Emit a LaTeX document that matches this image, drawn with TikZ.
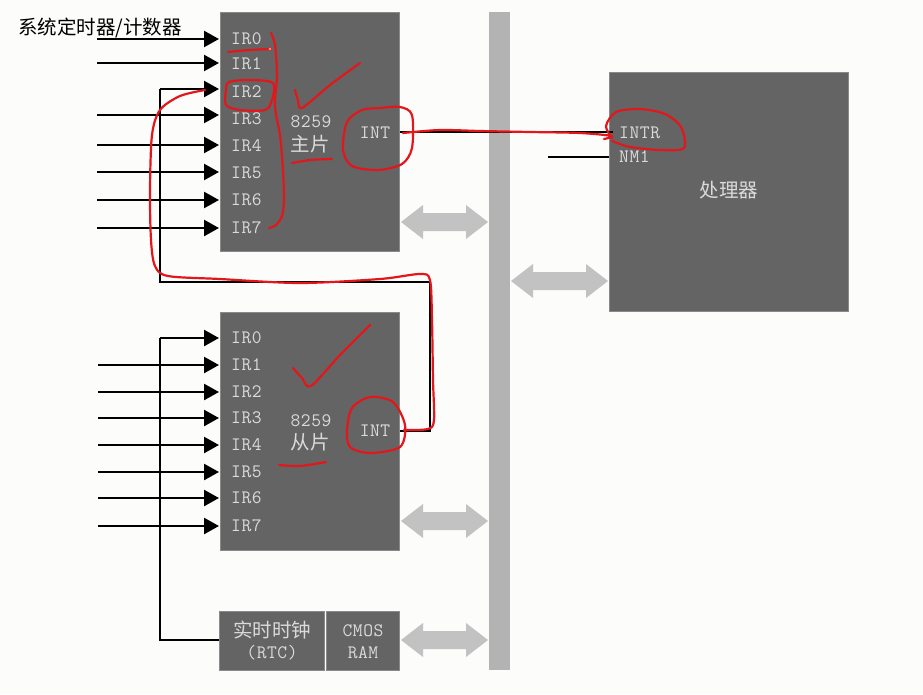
\documentclass[tikz,border=0pt]{standalone}
\usepackage{fontspec}
\setmainfont{Liberation Sans}
\newfontfamily\cjk{Noto Sans CJK SC}
\newfontfamily\monof{Latin Modern Mono}[LetterSpace=3]
\usetikzlibrary{arrows.meta}
\definecolor{chipgray}{HTML}{646464}
\definecolor{chipedge}{HTML}{8A8A8A}
\definecolor{labgray}{HTML}{DADADA}
\definecolor{busgray}{HTML}{B3B3B3}
\definecolor{arrgray}{HTML}{C2C2C2}
\definecolor{pen}{HTML}{E3171B}
\definecolor{bg}{HTML}{FCFCFA}
\newcommand{\dblarr}[3]{%
  \fill[arrgray] (#1,#3) -- (#1+22,#3-17) -- (#1+22,#3-9) -- (#2-22,#3-9) -- (#2-22,#3-17)
    -- (#2,#3) -- (#2-22,#3+17) -- (#2-22,#3+9) -- (#1+22,#3+9) -- (#1+22,#3+17) -- cycle;}
\tikzset{
  chip/.style={fill=chipgray, draw=chipedge, line width=0.8pt, inner sep=0pt, anchor=north west},
  irlab/.style={anchor=west, text=labgray, inner sep=0pt, font=\monof\fontsize{19}{19}\selectfont},
  cjklab/.style={text=labgray, inner sep=0pt, font=\cjk\fontsize{19.5}{21}\selectfont},
  wire/.style={draw=black, line width=2.4pt},
  inarrow/.style={wire, -{Triangle[length=15pt,width=16pt]}, shorten >=1pt},
  redpen/.style={draw=pen, line width=2.2pt, line cap=round, line join=round}
}
\begin{document}
\begin{tikzpicture}[x=1pt,y=-1pt]
\useasboundingbox[fill=bg] (0,0) rectangle (923,694);

% bus
\fill[busgray] (489,12) rectangle (510,670);

% chips
\node[chip, minimum width=179pt, minimum height=239pt] (master) at (220,12) {};
\node[chip, minimum width=179pt, minimum height=238pt] (slave) at (220,312) {};
\node[chip, minimum width=239pt, minimum height=239pt] (cpu) at (609,72) {};
\node[chip, minimum width=105pt, minimum height=59pt] (rtc) at (219,611) {};
\node[chip, minimum width=73pt, minimum height=59pt] (cmos) at (326,611) {};

% labels master
\foreach \i/\y in {0/39,1/64,2/92,3/119,4/146,5/173,6/200,7/228}
  \node[irlab] (mir\i) at (231,\y) {IR\i};
\node[irlab, anchor=center] (m8259) at (311,122) {8259};
\node[cjklab] (mzhu) at (310,144) {主片};
\node[irlab, anchor=center] (mint) at (375,133) {INT};

% labels slave
\foreach \i/\y in {0/338,1/365,2/392,3/418,4/445,5/472,6/498,7/526}
  \node[irlab] (sir\i) at (231,\y) {IR\i};
\node[irlab, anchor=center] (s8259) at (311,421) {8259};
\node[cjklab] (scong) at (310,442) {从片};
\node[irlab, anchor=center] (sint) at (375,431) {INT};

% cpu labels
\node[irlab] (intr) at (619,133) {INTR};
\node[irlab] (nmi) at (619,157) {NM1};
\node[cjklab] (cpul) at (729,190) {处理器};

% rtc / cmos labels
\node[cjklab] (rtc1) at (272,630) {实时时钟};
\node[irlab, anchor=center] (rtc2) at (272,653) {(RTC)};
\node[irlab, anchor=center] (cmos1) at (363,631) {CMOS};
\node[irlab, anchor=center] (cmos2) at (363,653) {RAM};

% title
\node[anchor=west, inner sep=0pt, font=\cjk\fontsize{19.5}{21}\selectfont, text=black] (title) at (18,28) {系统定时器/计数器};

% input arrows master
\foreach \y/\n in {39/0,63/1,115/3,145/4,172/5,200/6,228/7} {
  \coordinate (ms\n) at (97,\y);
  \draw[inarrow] (ms\n) -- (ms\n -| master.west);
}
% cascade from slave INT to IR2
\coordinate (c1) at (430,431);
\coordinate (c2) at (430,282);
\coordinate (c3) at (160,282);
\coordinate (c4) at (160,89);
\draw[wire, line join=miter] (slave.east |- c1) -- (c1) -- (c2) -- (c3) -- (c4);
\draw[inarrow] (c4) -- (c4 -| master.west);

% slave inputs
\foreach \y/\n in {365/1,392/2,418/3,445/4,472/5,498/6,526/7} {
  \coordinate (ss\n) at (98,\y);
  \draw[inarrow] (ss\n) -- (ss\n -| slave.west);
}
\coordinate (r1) at (160,640);
\coordinate (r2) at (160,338);
\draw[wire, line join=miter] (r1 -| rtc.west) -- (r1) -- (r2);
\draw[inarrow] (r2) -- (r2 -| slave.west);

% INT -> INTR and NMI
\coordinate (intend) at (613,132);
\draw[wire] (master.east |- intend) -- (intend);
\coordinate (nmist) at (548,157);
\draw[wire] (nmist) -- (nmist -| cpu.west);

% bus double arrows
\dblarr{401}{488}{222}
\dblarr{511}{608}{281}
\dblarr{401}{488}{521}
\dblarr{401}{488}{640}

% red annotations
\draw[redpen] plot[smooth] coordinates {(228,52) (250,50) (270,49)};
\draw[pen, fill=white, line width=0.8pt] (270,49) circle (1.6);
\draw[redpen] plot[smooth] coordinates {(271,33) (275,45) (277,75) (275,100) (276,115) (280,135) (283,170) (284,200) (282,216) (276,225) (269,228)};
\draw[redpen] plot[smooth cycle] coordinates {(229,82) (250,80) (273,83) (272,100) (265,110) (240,110) (226,105) (226,90)};
\draw[redpen] plot[smooth] coordinates {(295,90) (298,100) (302,108) (330,85) (360,63)};
\draw[redpen] plot[smooth] coordinates {(292,163) (310,160) (332,159)};
\draw[redpen] plot[smooth cycle] coordinates {(380,108) (400,107) (412,115) (412,148) (402,164) (378,170) (352,166) (343,150) (347,122) (362,110)};
\draw[redpen] plot[smooth] coordinates {(403,133) (440,130) (480,131) (530,132) (580,133) (612,136) (604,139)};
\draw[redpen] plot[smooth] coordinates {(612,138) (606,126) (616,112) (640,109) (665,114) (681,127) (684,148) (660,150) (630,147) (612,141)};
\draw[redpen] plot[smooth] coordinates {(205,90) (180,96) (160,110) (152,135) (150,190) (151,240) (155,266) (168,276) (220,279) (300,283) (380,279) (420,274) (430,280) (432,320) (433,380) (434,420) (428,429) (404,430)};
\draw[redpen] plot[smooth] coordinates {(293,368) (302,378) (311,386) (340,355) (370,325)};
\draw[redpen] plot[smooth] coordinates {(279,465) (300,466) (326,462)};
\draw[redpen] plot[smooth cycle] coordinates {(370,397) (393,402) (405,425) (400,447) (370,453) (350,447) (347,430) (352,408)};
\end{tikzpicture}
\end{document}
